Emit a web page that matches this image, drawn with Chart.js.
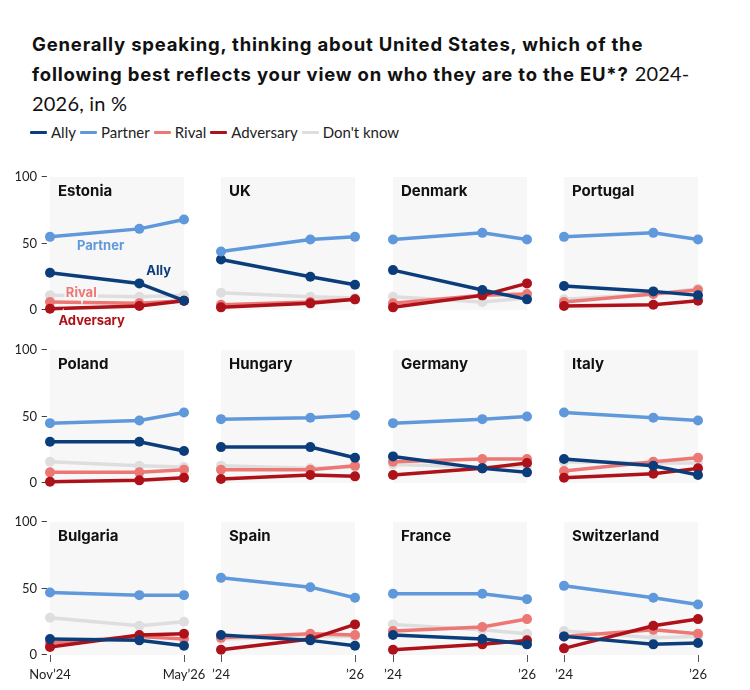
<!DOCTYPE html>
<html>
<head>
<meta charset="utf-8">
<script src="https://cdn.jsdelivr.net/npm/chart.js@4.4.0/dist/chart.umd.min.js"></script>
<style>
  html, body { margin: 0; padding: 0; background: #fff; }
  #wrap { position: relative; width: 750px; height: 690px; overflow: hidden; font-family: Inter, Lato, sans-serif; color: #111; }
  #title { position: absolute; left: 32px; top: 30px; font-size: 18.5px; line-height: 29px; letter-spacing: 0.8px; white-space: nowrap; }
  #title b { font-weight: 700; }
  #title span.reg { font-family: Lato, sans-serif; letter-spacing: 0.2px; font-size: 20px; }
  #legend { position: absolute; left: 30px; top: 123px; font-size: 15px; display: flex; align-items: center; color: #222; font-family: Lato, sans-serif; }
  #legend span.sw { display: inline-block; width: 17px; height: 3px; margin-right: 4px; border-radius: 1px; }
  #legend span.it { display: inline-flex; align-items: center; margin-right: 4px; }
  canvas { position: absolute; }
</style>
</head>
<body>
<div id="wrap">
  <div id="title"><b>Generally speaking, thinking about United States, which of the<br>following best reflects your view on who they are to the EU*?</b> <span class="reg">2024-<br>2026, in %</span></div>
  <div id="legend"></div>
</div>
<script>
// ---- Data ----
const countries = ["Estonia","UK","Denmark","Portugal","Poland","Hungary","Germany","Italy","Bulgaria","Spain","France","Switzerland"];
const months = [0, 12, 18]; // Nov'24, Nov'25, May'26 (months since Nov 2024)
const seriesNames = ["Ally","Partner","Rival","Adversary","Don't know"];
const ally      = [[28,20,7],[38,25,19],[30,15,8],[18,14,11],[31,31,24],[27,27,19],[20,11,8],[18,13,6],[12,11,7],[15,11,7],[15,12,8],[14,8,9]];
const partner   = [[55,61,68],[44,53,55],[53,58,53],[55,58,53],[45,47,53],[48,49,51],[45,48,50],[53,49,47],[47,45,45],[58,51,43],[46,46,42],[52,43,38]];
const rival     = [[6,5,7],[4,6,8],[5,11,12],[6,12,15],[8,8,10],[10,10,13],[16,18,18],[9,16,19],[9,14,12],[13,16,15],[18,21,27],[14,19,16]];
const adversary = [[1,3,7],[2,5,8],[2,11,20],[3,4,7],[1,2,4],[3,6,5],[6,11,15],[4,7,11],[6,15,16],[4,12,23],[4,8,11],[5,22,27]];
const dontKnow  = [[11,10,11],[13,10,9],[10,6,9],[8,12,16],[16,13,12],[13,11,12],[14,12,13],[16,15,15],[28,22,25],[12,14,14],[23,19,16],[18,13,14]];
const yTicks = [0, 50, 100];
const xTickLabelsFirstCol = ["Nov\u201924", "May\u201926"];
const xTickLabelsOther = ["\u201924", "\u201926"];
// In-chart series labels on the first panel (data coordinates)
const annoText = ["Partner","Ally","Rival","Adversary"];
const annoX = [6.8, 14.6, 4.2, 5.6];
const annoY = [48, 29, 13, -8.6];

// ---- Styles ----
const colors = { "Ally":"#0c3d7b", "Partner":"#5f98db", "Rival":"#ec7875", "Adversary":"#ad1119", "Don't know":"#dedede" };
const seriesData = { "Ally":ally, "Partner":partner, "Rival":rival, "Adversary":adversary, "Don't know":dontKnow };
const drawOrder = ["Partner","Ally","Adversary","Rival","Don't know"]; // first = on top

// Legend
const leg = document.getElementById('legend');
seriesNames.forEach(n => {
  const it = document.createElement('span'); it.className = 'it';
  const sw = document.createElement('span'); sw.className = 'sw'; sw.style.background = colors[n];
  it.appendChild(sw); it.appendChild(document.createTextNode(n));
  leg.appendChild(it);
});

const colLeft = [50, 221, 393, 564];
const rowTop = [177, 350, 522];
const PW = 134, PH = 133;
const padL = 45, padR = 35, padT = 12;
const yAxisW = 40;

const panelPlugin = {
  id: 'panel',
  beforeDatasetsDraw(chart) {
    const a = chart.chartArea, ctx = chart.ctx;
    ctx.save();
    ctx.fillStyle = '#f7f7f7';
    ctx.fillRect(a.left, a.top, a.right - a.left, a.bottom - a.top);
    ctx.restore();
  },
  afterDatasetsDraw(chart) {
    const a = chart.chartArea, ctx = chart.ctx;
    const o = chart.options.plugins.panel;
    ctx.save();
    ctx.font = 'bold 15px Inter, Lato, sans-serif';
    ctx.fillStyle = '#111';
    ctx.textBaseline = 'middle';
    ctx.fillText(o.title, a.left + 8, a.top + 14);
    if (o.anno) {
      const xs = chart.scales.x, ys = chart.scales.y;
      ctx.font = 'bold 13px Inter, Lato, sans-serif';
      ctx.textAlign = 'center';
      annoText.forEach((t, i) => {
        const px = xs.getPixelForValue(annoX[i]), py = ys.getPixelForValue(annoY[i]);
        ctx.lineWidth = 4; ctx.strokeStyle = i === 3 ? '#ffffff' : '#f7f7f7';
        ctx.strokeText(t, px, py);
        ctx.fillStyle = colors[t];
        ctx.fillText(t, px, py);
      });
    }
    ctx.restore();
  }
};

countries.forEach((name, idx) => {
  const r = Math.floor(idx / 4), c = idx % 4;
  const padB = r === 2 ? 40 : 25;
  const showX = r === 2, showY = c === 0;
  const cv = document.createElement('canvas');
  const w = padL + PW + padR, h = padT + PH + padB;
  cv.width = w; cv.height = h;
  cv.style.left = (colLeft[c] - padL) + 'px';
  cv.style.top = (rowTop[r] - padT) + 'px';
  cv.style.width = w + 'px'; cv.style.height = h + 'px';
  document.getElementById('wrap').appendChild(cv);

  const datasets = drawOrder.map((s, k) => ({
    label: s,
    data: months.map((m, j) => ({ x: m, y: seriesData[s][idx][j] })),
    borderColor: colors[s],
    backgroundColor: colors[s],
    pointBackgroundColor: colors[s],
    borderWidth: 3.5,
    pointRadius: 5,
    pointHoverRadius: 5,
    pointBorderWidth: 0,
    tension: 0,
    clip: false,
    order: k
  }));

  const xLabels = c === 0 ? xTickLabelsFirstCol : xTickLabelsOther;
  new Chart(cv, {
    type: 'line',
    data: { datasets },
    options: {
      responsive: false,
      animation: false,
      devicePixelRatio: 1,
      events: [],
      layout: { padding: { left: showY ? padL - yAxisW : padL, right: padR, top: padT, bottom: showX ? padB - 30 : padB } },
      plugins: {
        legend: { display: false },
        tooltip: { enabled: false },
        panel: { title: name, anno: idx === 0 }
      },
      scales: {
        x: {
          type: 'linear', min: months[0], max: months[months.length - 1],
          display: showX,
          afterBuildTicks: s => { s.ticks = [{ value: months[0] }, { value: months[months.length - 1] }]; },
          afterFit: s => { if (showX) { s.height = 30; s.paddingLeft = 0; s.paddingRight = 0; } },
          ticks: {
            autoSkip: false, maxRotation: 0, padding: 5,
            color: '#222', font: { family: 'Lato, sans-serif', size: 13 },
            callback: (v) => v === months[0] ? xLabels[0] : xLabels[1]
          },
          grid: { display: true, drawOnChartArea: false, drawTicks: true, tickLength: 7, color: '#555', lineWidth: 1 },
          border: { display: false }
        },
        y: {
          min: 0, max: 100,
          display: showY,
          afterBuildTicks: s => { s.ticks = yTicks.map(v => ({ value: v })); },
          afterFit: s => { if (showY) { s.width = yAxisW; s.paddingTop = 0; s.paddingBottom = 0; } },
          ticks: {
            padding: 2, color: '#222', font: { family: 'Lato, sans-serif', size: 13 },
            callback: v => v + ' \u2013'
          },
          grid: { display: false, drawTicks: false },
          border: { display: false }
        }
      }
    },
    plugins: [panelPlugin]
  });
});
</script>
</body>
</html>
